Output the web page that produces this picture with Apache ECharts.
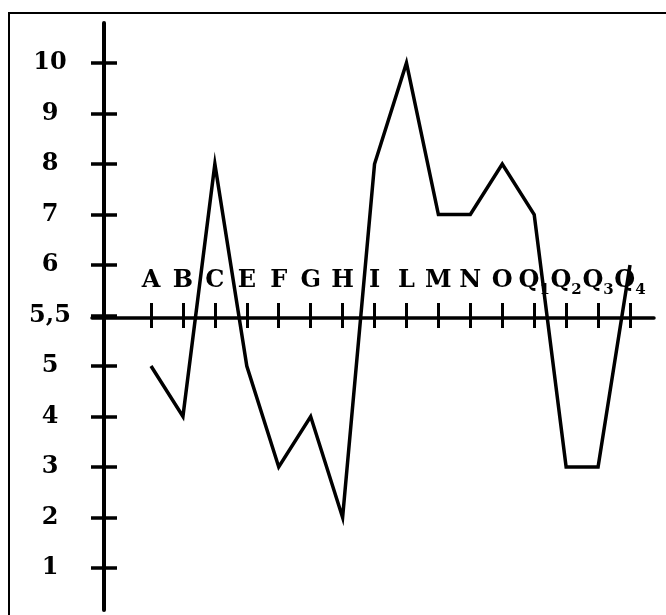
<!DOCTYPE html>
<html>
<head>
<meta charset="utf-8">
<script src="https://cdn.jsdelivr.net/npm/echarts@6/dist/echarts.min.js"></script>
<style>html,body{margin:0;padding:0;background:#fff}#c{width:666px;height:615px}</style>
</head>
<body>
<div id="c"></div>
<script>
// ---- data ----
const categories = ['A','B','C','E','F','G','H','I','L','M','N','O','Q1','Q2','Q3','Q4'];
const values = [5,4,8,5,3,4,2,8,10,7,7,8,7,3,3,6];
const yTicks = [1,2,3,4,5,5.5,6,7,8,9,10];

const FONT = 'DejaVu Serif';
const chart = echarts.init(document.getElementById('c'), null, {renderer:'canvas'});

const seriesData = values.map((v, i) => [categories[i], String(v)]);

function xLabelFmt(v) {
  if (v.length > 1) return '{m|' + v[0] + '}{s|' + v.slice(1) + '}';
  return '{m|' + v + '}';
}

const option = {
  backgroundColor: '#fff',
  animation: false,
  graphic: [{
    type: 'rect', silent: true,
    shape: {x: 9, y: 13, width: 1000, height: 1000},
    style: {fill: 'none', stroke: '#000', lineWidth: 2}
  }],
  grid: [
    {left: 151, top: 63, width: 479, height: 505},   // data
    {left: 104, top: 23, width: 100, height: 587},   // vertical axis line
    {left: 92, top: 0, width: 562, height: 318},     // horizontal axis line
    {left: 151, top: 0, width: 479, height: 328}     // category ticks + labels
  ],
  xAxis: [
    {gridIndex: 0, type: 'category', data: categories, boundaryGap: false, show: false},
    {gridIndex: 1, type: 'value', show: false},
    {gridIndex: 2, type: 'value', position: 'bottom',
      axisLine: {show: true, lineStyle: {color: '#000', width: 3.5}},
      axisTick: {show: false}, axisLabel: {show: false}, splitLine: {show: false}},
    {gridIndex: 3, type: 'category', data: categories, boundaryGap: false, position: 'bottom',
      axisLine: {show: false},
      axisTick: {show: true, inside: true, length: 25, interval: 0, lineStyle: {color: '#000', width: 3}},
      axisLabel: {show: true, inside: true, interval: 0, margin: 59, verticalAlign: 'top',
        formatter: xLabelFmt, color: '#000',
        rich: {
          m: {fontFamily: FONT, fontWeight: 'bold', fontSize: 24, lineHeight: 24, verticalAlign: 'top', color: '#000'},
          s: {fontFamily: FONT, fontWeight: 'bold', fontSize: 15, lineHeight: 15, padding: [14, 0, 0, 0], verticalAlign: 'top', color: '#000'}
        }},
      splitLine: {show: false}}
  ],
  yAxis: [
    {gridIndex: 0, type: 'category', data: yTicks.map(String), boundaryGap: false, position: 'left', offset: 34,
      axisLine: {show: false},
      axisTick: {show: true, length: 26, interval: 0, lineStyle: {color: '#000', width: 3.5}},
      axisLabel: {show: true, interval: 0, margin: 67, align: 'center', color: '#000',
        fontFamily: FONT, fontWeight: 'bold', fontSize: 24,
        formatter: v => v.replace('.', ',')},
      splitLine: {show: false}},
    {gridIndex: 1, type: 'value', position: 'left',
      axisLine: {show: true, lineStyle: {color: '#000', width: 4}},
      axisTick: {show: false}, axisLabel: {show: false}, splitLine: {show: false}},
    {gridIndex: 2, type: 'value', show: false},
    {gridIndex: 3, type: 'value', show: false}
  ],
  series: [{
    type: 'line', xAxisIndex: 0, yAxisIndex: 0,
    data: seriesData,
    showSymbol: false, symbol: 'none',
    lineStyle: {color: '#000', width: 3.5, join: 'miter'},
    clip: false
  }]
};
chart.setOption(option);
</script>
</body>
</html>
